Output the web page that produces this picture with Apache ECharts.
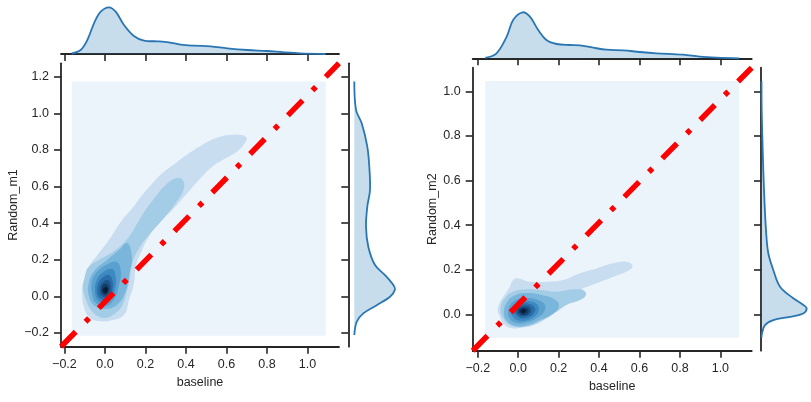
<!DOCTYPE html>
<html><head><meta charset="utf-8">
<script src="https://cdn.jsdelivr.net/npm/echarts@6/dist/echarts.min.js"></script>
<style>html,body{margin:0;padding:0;background:#fff}#c{width:811px;height:402px}</style>
</head><body><div id="c"></div>
<script>
// ---------- ticks & limits ----------
const xTicks = [-0.2, 0, 0.2, 0.4, 0.6, 0.8, 1.0];
const yTicks1 = [-0.2, 0, 0.2, 0.4, 0.6, 0.8, 1.0, 1.2];
const yTicks2 = [0, 0.2, 0.4, 0.6, 0.8, 1.0];
const xLim1 = [-0.217, 1.156];
const yLim1 = [-0.275, 1.273];
const xLim2 = [-0.225, 1.155];
const yLim2 = [-0.163, 1.106];
const xLabel = 'baseline';
const yLabel1 = 'Random_m1';
const yLabel2 = 'Random_m2';

// ---------- KDE support boxes (lowest filled level) ----------
const kdeBox1 = [[-0.164, -0.215], [1.09, 1.173]];
const kdeBox2 = [[-0.163, -0.105], [1.093, 1.046]];

// ---------- KDE contour levels, panel 1 (baseline vs Random_m1) ----------
const p1k1 = [[-0.030,-0.135],[0.036,-0.130],[0.094,-0.102],[0.119,-0.020],[0.143,0.071],[0.152,0.162],[0.176,0.235],[0.217,0.326],[0.267,0.399],[0.332,0.472],[0.399,0.554],[0.464,0.636],[0.530,0.708],[0.596,0.754],[0.662,0.800],[0.695,0.845],[0.700,0.863],[0.678,0.881],[0.612,0.881],[0.547,0.863],[0.480,0.827],[0.415,0.781],[0.349,0.727],[0.283,0.672],[0.234,0.617],[0.184,0.554],[0.135,0.481],[0.085,0.417],[0.020,0.308],[-0.030,0.235],[-0.079,0.162],[-0.104,0.089],[-0.112,0.016],[-0.104,-0.057],[-0.079,-0.111]];
const p1k2 = [[-0.095,0.126],[-0.104,0.016],[-0.030,-0.111],[0.061,-0.084],[0.110,0.034],[0.135,0.180],[0.168,0.262],[0.217,0.335],[0.283,0.417],[0.349,0.508],[0.390,0.590],[0.382,0.639],[0.349,0.645],[0.300,0.608],[0.250,0.544],[0.201,0.472],[0.160,0.399],[0.119,0.326],[0.053,0.253],[-0.030,0.198],[-0.079,0.162]];
const p1k3 = [[0.109,0.291],[0.133,0.220],[0.123,0.133],[0.104,0.034],[0.064,-0.042],[0.005,-0.069],[-0.049,-0.053],[-0.079,0.002],[-0.079,0.078],[-0.049,0.144],[0.010,0.198],[0.069,0.253]];
const p1k4 = [[0.059,0.187],[0.079,0.133],[0.069,0.062],[0.049,-0.009],[0.005,-0.053],[-0.044,-0.037],[-0.064,0.018],[-0.064,0.084],[-0.035,0.138],[0.015,0.177]];
const p1k5 = [[0.035,0.149],[0.054,0.100],[0.049,0.034],[0.030,-0.015],[0.000,-0.037],[-0.035,-0.020],[-0.049,0.023],[-0.044,0.078],[-0.020,0.122]];
const p1k6 = [[0.020,0.116],[0.040,0.073],[0.035,0.023],[0.020,-0.009],[-0.005,-0.020],[-0.030,-0.004],[-0.040,0.034],[-0.030,0.078],[-0.010,0.105]];
const p1k7 = [[0.015,0.089],[0.030,0.056],[0.025,0.018],[0.005,-0.004],[-0.020,0.007],[-0.025,0.040],[-0.015,0.073]];
const p1k8 = [[0.010,0.067],[0.020,0.045],[0.015,0.018],[0.000,0.007],[-0.015,0.023],[-0.015,0.051],[-0.005,0.067]];
const p1k9 = [[0.005,0.051],[0.015,0.040],[0.010,0.023],[0.000,0.018],[-0.010,0.029],[-0.005,0.045]];

// ---------- KDE contour levels, panel 2 (baseline vs Random_m2) ----------
const p2k1 = [[-0.099,0.034],[-0.041,0.124],[-0.025,0.154],[0.000,0.161],[0.058,0.146],[0.140,0.146],[0.223,0.154],[0.305,0.184],[0.388,0.206],[0.470,0.229],[0.536,0.236],[0.566,0.217],[0.544,0.196],[0.470,0.169],[0.388,0.139],[0.305,0.109],[0.239,0.072],[0.173,0.027],[0.107,-0.018],[0.025,-0.056],[-0.025,-0.063],[-0.066,-0.048],[-0.091,-0.011]];
const p2k2 = [[-0.087,0.027],[-0.066,0.072],[-0.025,0.101],[0.042,0.112],[0.107,0.109],[0.190,0.101],[0.272,0.112],[0.321,0.109],[0.335,0.087],[0.305,0.064],[0.239,0.042],[0.190,0.012],[0.140,-0.018],[0.074,-0.048],[0.008,-0.058],[-0.041,-0.048],[-0.074,-0.018]];
const p2k3 = [[-0.071,0.010],[-0.051,0.060],[-0.011,0.087],[0.048,0.096],[0.117,0.087],[0.186,0.064],[0.201,0.033],[0.167,0.001],[0.107,-0.025],[0.048,-0.048],[-0.011,-0.052],[-0.056,-0.030]];
const p2k4 = [[-0.051,0.010],[-0.036,0.046],[-0.001,0.069],[0.048,0.073],[0.097,0.064],[0.132,0.042],[0.127,0.010],[0.092,-0.017],[0.043,-0.035],[-0.006,-0.039],[-0.041,-0.021]];
const p2k5 = [[-0.036,0.015],[-0.021,0.042],[0.008,0.057],[0.053,0.060],[0.092,0.046],[0.102,0.019],[0.083,-0.008],[0.043,-0.026],[-0.001,-0.028],[-0.026,-0.012]];
const p2k6 = [[-0.021,0.015],[-0.006,0.037],[0.023,0.048],[0.058,0.046],[0.083,0.028],[0.078,0.006],[0.053,-0.012],[0.013,-0.017],[-0.011,-0.003]];
const p2k7 = [[-0.009,0.015],[0.003,0.033],[0.028,0.039],[0.055,0.035],[0.065,0.019],[0.055,0.001],[0.028,-0.008],[0.003,-0.003]];
const p2k8 = [[0.002,0.015],[0.013,0.028],[0.033,0.030],[0.050,0.024],[0.051,0.010],[0.038,-0.001],[0.016,-0.001]];
const p2k9 = [[0.012,0.015],[0.023,0.024],[0.037,0.022],[0.037,0.010],[0.023,0.006]];

const levelColors = ['#EBF3FB','#C8DDF0','#A3CCE6','#7AB6DB','#5AA1D0','#3D8AC2','#2A6FAA','#1D558A','#123C66','#0A1E33'];

// ---------- marginal KDEs ----------
// top marginals: [baseline value, density]
const margTop1 = [[-0.164,0.05],[-0.12,0.4],[-0.087,1.4],[-0.054,3.07],[-0.021,4.23],[0.020,4.67],[0.053,4.23],[0.094,2.9],[0.143,1.8],[0.193,1.33],[0.258,1.27],[0.316,1.17],[0.374,0.93],[0.440,0.83],[0.522,0.77],[0.604,0.57],[0.703,0.4],[0.801,0.3],[0.884,0.17],[0.966,0.07],[1.09,0.0]];
const margTop2 = [[-0.163,0.05],[-0.107,0.5],[-0.057,2.16],[-0.025,3.83],[0.022,4.6],[0.058,4.16],[0.099,2.83],[0.140,1.83],[0.190,1.43],[0.256,1.33],[0.305,1.3],[0.371,1.06],[0.437,0.86],[0.519,0.8],[0.602,0.63],[0.684,0.5],[0.816,0.36],[0.898,0.16],[0.981,0.06],[1.093,0.0]];
// right marginals: [model value, density]
const margRight1 = [[1.173,0.0],[1.019,0.17],[0.945,0.74],[0.818,1.3],[0.708,1.5],[0.581,1.57],[0.490,1.3],[0.380,1.17],[0.271,1.4],[0.171,2.07],[0.116,3.07],[0.062,3.9],[0.038,4.07],[-0.002,3.57],[-0.048,2.24],[-0.093,0.9],[-0.139,0.24],[-0.211,0.0]];
const margRight2 = [[1.046,0.0],[0.916,0.02],[0.737,0.12],[0.557,0.25],[0.378,0.45],[0.274,0.68],[0.199,1.18],[0.124,1.85],[0.072,3.18],[0.042,4.18],[0.027,4.52],[0.004,4.18],[-0.011,2.85],[-0.026,1.18],[-0.048,0.35],[-0.085,0.05],[-0.105,0.0]];

// ---------- build ----------
const INK = '#262626';
const FONT = 'Liberation Sans';
const FS = 12.5;
const fmt = v => (v < 0 ? '\u2212' : '') + Math.abs(v).toFixed(1);
const levels1 = [p1k1,p1k2,p1k3,p1k4,p1k5,p1k6,p1k7,p1k8,p1k9];
const levels2 = [p2k1,p2k2,p2k3,p2k4,p2k5,p2k6,p2k7,p2k8,p2k9];

function boxPoly(b){ return [[b[0][0],b[0][1]],[b[1][0],b[0][1]],[b[1][0],b[1][1]],[b[0][0],b[1][1]]]; }

function contourSeries(idx, box, levels){
  const polys = [boxPoly(box)].concat(levels);
  return {
    type:'custom', xAxisIndex:idx, yAxisIndex:idx, z:1, silent:true,
    data: polys.map((p,i)=>[i]),
    renderItem:(params, api)=>{
      const i = params.dataIndex;
      const pts = polys[i].map(p=>api.coord(p));
      return {type:'polygon', shape:{points:pts, smooth: i===0?0:0.45}, style:{fill:levelColors[i], stroke:null}};
    }
  };
}

function margSeries(idx, pts, horizontal){
  return {
    type:'custom', xAxisIndex:idx, yAxisIndex:idx, z:2, silent:true, clip:false,
    data:[[0]],
    renderItem:(params, api)=>{
      const curve = pts.map(p=> horizontal ? api.coord([p[0],p[1]]) : api.coord([p[1],p[0]]));
      const first = pts[0], last = pts[pts.length-1];
      const base = horizontal ? [api.coord([last[0],0]), api.coord([first[0],0])]
                              : [api.coord([0,last[0]]), api.coord([0,first[0]])];
      return {type:'group', children:[
        {type:'polygon', shape:{points:curve.concat(base), smooth:0.35}, style:{fill:'rgba(31,119,180,0.25)', stroke:null}},
        {type:'polyline', shape:{points:curve, smooth:0.35}, style:{fill:null, stroke:'#2a76b3', lineWidth:1.8}}
      ]};
    }
  };
}

function diagSeries(idx, xl, yl){
  return {
    type:'line', xAxisIndex:idx, yAxisIndex:idx, z:5, silent:true, clip:false,
    symbol:'none', data:[[xl[0],yl[0]],[xl[1],yl[1]]],
    lineStyle:{color:'#ff0000', width:5.5, type:[21,14,5,14], cap:'butt'}
  };
}

const axLine = {show:true, onZero:false, lineStyle:{color:INK, width:1.8}};
function tickAx(vals, len){ return {show:true, length:len, customValues:vals, lineStyle:{color:INK, width:1.6}}; }
const lbl = (vals, m)=>({show:true, customValues:vals, formatter:fmt, color:INK, fontFamily:FONT, fontSize:FS, margin:m});
const nameStyle = {color:INK, fontFamily:FONT, fontSize:FS};

function mainX(gi, lim){ return {gridIndex:gi, type:'value', min:lim[0], max:lim[1], axisLine:axLine, axisTick:tickAx(xTicks,7), axisLabel:lbl(xTicks,11), splitLine:{show:false}, name:xLabel, nameLocation:'middle', nameGap:27, nameTextStyle:nameStyle}; }
function mainY(gi, lim, ticks, name, gap){ return {gridIndex:gi, type:'value', min:lim[0], max:lim[1], axisLine:axLine, axisTick:tickAx(ticks,7), axisLabel:lbl(ticks,12), splitLine:{show:false}, name:name, nameLocation:'middle', nameGap:gap, nameRotate:90, nameTextStyle:nameStyle}; }
function margAxTicks(gi, lim, ticks, pos){ return {gridIndex:gi, type:'value', position:pos, min:lim[0], max:lim[1], axisLine:axLine, axisTick:tickAx(ticks,7), axisLabel:{show:false}, splitLine:{show:false}}; }
function hidden(gi, mn, mx){ return {gridIndex:gi, type:'value', show:false, min:mn, max:mx, splitLine:{show:false}}; }

const g = (l,t,w,h)=>({left:l, top:t, width:w, height:h, containLabel:false, outerBoundsMode:'none'});

const option = {
  animation:false,
  backgroundColor:'#ffffff',
  grid:[ g(61,63.3,278,283.4), g(61,0,278,54), g(348.3,63.3,54,283.4),
         g(472.7,67.7,279,283), g(472.7,4.3,279,54), g(761,67.7,50.5,283) ],
  xAxis:[ mainX(0,xLim1), margAxTicks(1,xLim1,xTicks,'bottom'), hidden(2,-0.6,4.8),
          mainX(3,xLim2), margAxTicks(4,xLim2,xTicks,'bottom'), hidden(5,-0.05,5.0) ],
  yAxis:[ mainY(0,yLim1,yTicks1,yLabel1,40), hidden(1,0,5.4), margAxTicks(2,yLim1,yTicks1,'left'),
          mainY(3,yLim2,yTicks2,yLabel2,30), hidden(4,0,5.4), margAxTicks(5,yLim2,yTicks2,'left') ],
  series:[
    contourSeries(0, kdeBox1, levels1),
    contourSeries(3, kdeBox2, levels2),
    diagSeries(0, xLim1, yLim1),
    diagSeries(3, xLim2, yLim2),
    margSeries(1, margTop1, true),
    margSeries(2, margRight1, false),
    margSeries(4, margTop2, true),
    margSeries(5, margRight2, false)
  ]
};
const chart = echarts.init(document.getElementById('c'), null, {renderer:'canvas'});
chart.setOption(option);
</script></body></html>
